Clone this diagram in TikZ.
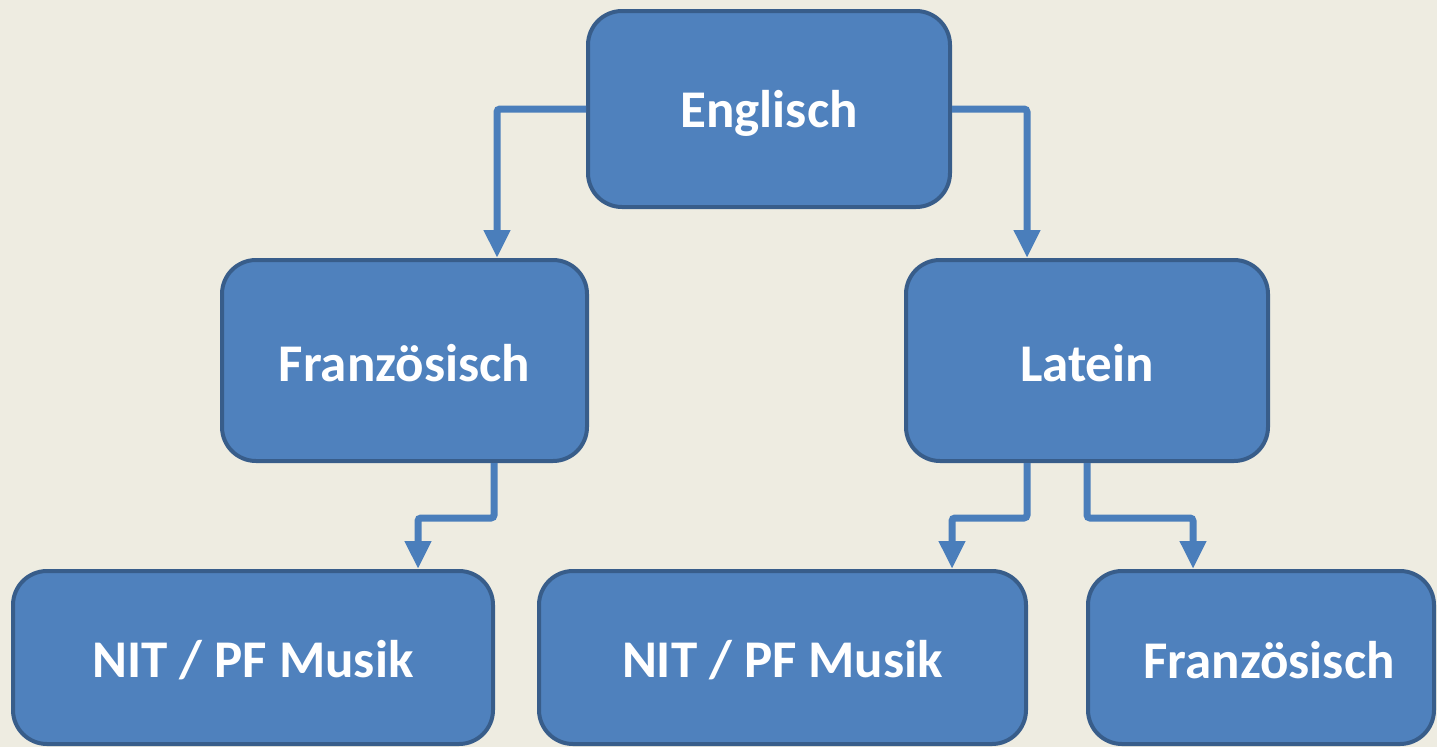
\documentclass[tikz,border=0pt]{standalone}
\usepackage{fontspec}
\setmainfont{Carlito}
\usetikzlibrary{arrows.meta}
\definecolor{bgcol}{HTML}{EEECE1}
\definecolor{boxfill}{HTML}{4F81BD}
\definecolor{boxline}{HTML}{385D8A}
\definecolor{arrowcol}{HTML}{4A7EBB}
\tikzset{
  box/.style={rectangle, rounded corners=34pt, fill=boxfill, draw=boxline, line width=4pt,
    inner sep=0pt, text=white, font=\fontsize{53}{60}\selectfont\bfseries},
  conn/.style={draw=arrowcol, line width=7pt, rounded corners=3pt,
    -{Triangle[width=25pt,length=28pt]}}
}
\begin{document}
\begin{tikzpicture}[x=1pt,y=-1pt]
\useasboundingbox (0,0) rectangle (1437,747);
\clip (0,0) rectangle (1437,747);
\fill[bgcol] (0,0) rectangle (1437,747);
\node[box, minimum width=362pt, minimum height=196pt] (E) at (769,109) {};
\node[box, minimum width=365pt, minimum height=201pt] (F) at (404.5,360.5) {};
\node[box, minimum width=362pt, minimum height=201pt] (L) at (1087,360.5) {};
\node[box, minimum width=480pt, minimum height=173pt] (N1) at (253,657.5) {};
\node[box, minimum width=487pt, minimum height=173pt] (N2) at (782.5,657.5) {};
\node[box, minimum width=346pt, minimum height=173pt] (F2) at (1261,657.5) {};
\node[box, draw=none, fill=none] (tE) at ([yshift=-4pt]E.center) {Englisch};
\node[box, draw=none, fill=none] (tF) at ([yshift=-3pt]F.center) {Französisch};
\node[box, draw=none, fill=none] (tL) at ([yshift=-3pt]L.center) {Latein};
\node[box, draw=none, fill=none] (tN1) at ([yshift=-3pt]N1.center) {NIT / PF Musik};
\node[box, draw=none, fill=none] (tN2) at ([yshift=-3pt]N2.center) {NIT / PF Musik};
\node[box, draw=none, fill=none] (tF2) at ([xshift=8pt,yshift=-3pt]F2.center) {Französisch};
\draw[conn] (E.west) -| ([xshift=92.5pt]F.north);
\draw[conn] (E.east) -| ([xshift=-60pt]L.north);
\draw[conn] ([xshift=89.5pt]F.south) -- ++(0,55) -| ([xshift=165pt]N1.north);
\draw[conn] ([xshift=-60pt]L.south) -- ++(0,55) -| ([xshift=169.5pt]N2.north);
\draw[conn] (L.south) -- ++(0,55) -| ([xshift=-68pt]F2.north);
\end{tikzpicture}
\end{document}
